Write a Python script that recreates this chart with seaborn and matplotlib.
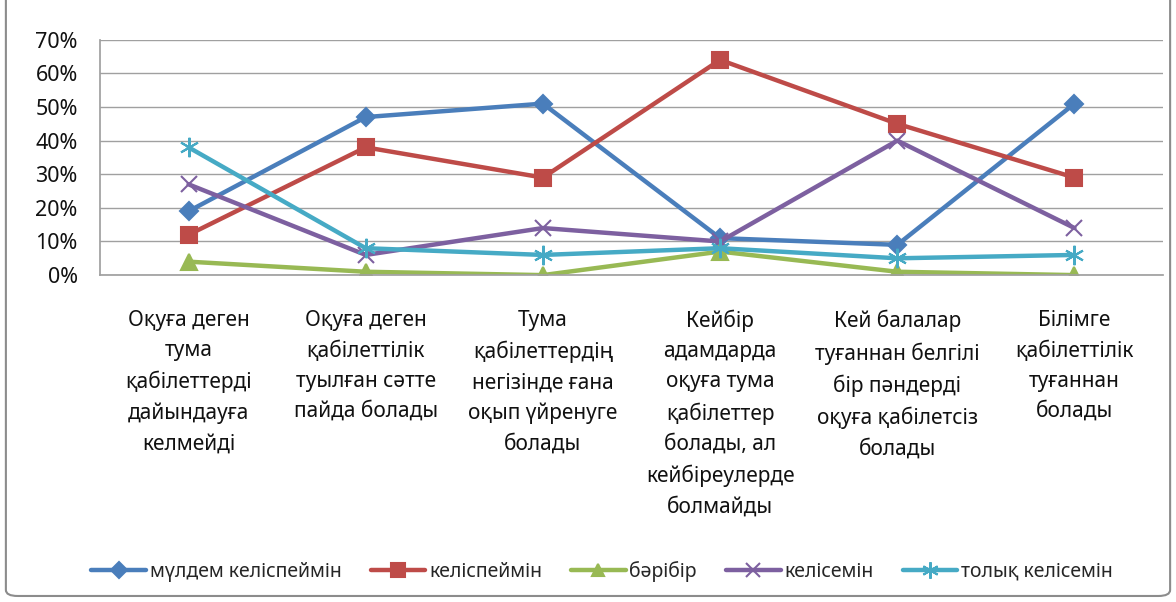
import pandas as pd
import numpy as np
import matplotlib
matplotlib.use("Agg")
import matplotlib.pyplot as plt
import seaborn as sns
from matplotlib.patches import FancyBboxPatch
from matplotlib.ticker import PercentFormatter, FixedLocator

categories = [
    "Оқуға деген\nтума\nқабілеттерді\nдайындауға\nкелмейді",
    "Оқуға деген\nқабілеттілік\nтуылған сәтте\nпайда болады",
    "Тума\nқабілеттердің\nнегізінде ғана\nоқып үйренуге\nболады",
    "Кейбір\nадамдарда\nоқуға тума\nқабілеттер\nболады, ал\nкейбіреулерде\nболмайды",
    "Кей балалар\nтуғаннан белгілі\nбір пәндерді\nоқуға қабілетсіз\nболады",
    "Білімге\nқабілеттілік\nтуғаннан\nболады",
]

series_names = ["мүлдем келіспеймін", "келіспеймін", "бәрібір", "келісемін", "толық келісемін"]
mulde_kelispeimin = [19, 47, 51, 11, 9, 51]
kelispeimin = [12, 38, 29, 64, 45, 29]
boribir = [4, 1, 0, 7, 1, 0]
kelisemin = [27, 6, 14, 10, 40, 14]
tolyk_kelisemin = [38, 8, 6, 8, 5, 6]

values = [mulde_kelispeimin, kelispeimin, boribir, kelisemin, tolyk_kelisemin]
colors = ["#4A7EBB", "#BE4B48", "#98B954", "#7D60A0", "#46AAC5"]
markers = ["D", "s", "^", "x", (6, 2, 0)]
msizes = [9, 12, 11, 12, 14]

rows = []
for name, vals in zip(series_names, values):
    for i, v in enumerate(vals):
        rows.append({"pos": i, "value": v, "series": name})
df = pd.DataFrame(rows)

sns.set_theme(style="white")
plt.rcParams["font.family"] = ["Noto Sans", "DejaVu Sans"]

fig = plt.figure(figsize=(11.76, 6.02), dpi=100)
ax = fig.add_axes([0.085, 0.543, 0.904, 0.391])

for name, col, mk, ms in zip(series_names, colors, markers, msizes):
    sub = df[df["series"] == name]
    sns.lineplot(data=sub, x="pos", y="value", ax=ax, color=col, linewidth=3.2,
                 marker=mk, markersize=ms, markeredgecolor=col, markeredgewidth=1.5,
                 label=name, estimator=None, sort=False)

ax.set_xlim(-0.5, 5.5)
ax.set_ylim(0, 70)
ax.yaxis.set_major_locator(FixedLocator(np.arange(0, 71, 10)))
ax.yaxis.set_major_formatter(PercentFormatter(decimals=0))
ax.set_xticks(range(len(categories)))
ax.set_xticklabels(categories, fontsize=15, linespacing=1.57, va="top")
ax.set_xticks(np.arange(-0.5, 6, 1), minor=True)
ax.tick_params(axis="x", which="major", length=0, pad=25, colors="#111111")
ax.tick_params(axis="x", which="minor", length=7, width=1, color="#A0A0A0", direction="out")
ax.tick_params(axis="y", length=7, width=1, color="#A0A0A0", labelsize=15.5, pad=9,
               labelcolor="#111111")
ax.yaxis.grid(True, color="#A0A0A0", linewidth=1)
ax.set_axisbelow(True)
for s in ["top", "right"]:
    ax.spines[s].set_visible(False)
ax.spines["left"].set_color("#A0A0A0")
ax.spines["bottom"].set_color("#A0A0A0")
ax.set_xlabel("")
ax.set_ylabel("")

ax.legend(loc="center", bbox_to_anchor=(0.512, 0.051), bbox_transform=fig.transFigure,
          ncol=5, frameon=False, fontsize=14, handlelength=2.8, columnspacing=1.5,
          handletextpad=0.2, markerscale=0.85)

border = FancyBboxPatch((0.005, 0.01), 0.99, 1.2, boxstyle="round,pad=0,rounding_size=0.01",
                        transform=fig.transFigure, fill=False, edgecolor="#8C8C8C", linewidth=1.5)
fig.patches.append(border)

fig.savefig("out.png", dpi=100)
